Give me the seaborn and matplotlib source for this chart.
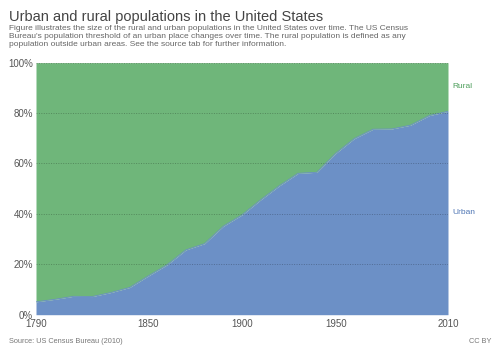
import matplotlib
matplotlib.use("Agg")
import matplotlib.pyplot as plt
import matplotlib.transforms as mtransforms
import seaborn as sns
import pandas as pd

years = [1790, 1800, 1810, 1820, 1830, 1840, 1850, 1860, 1870, 1880, 1890, 1900,
         1910, 1920, 1930, 1940, 1950, 1960, 1970, 1980, 1990, 2000, 2010]
urban_pct = [5.1, 6.1, 7.3, 7.2, 8.8, 10.8, 15.4, 19.8, 25.7, 28.2, 35.1, 39.6,
             45.6, 51.2, 56.1, 56.5, 64.0, 69.9, 73.6, 73.7, 75.2, 79.0, 80.7]
rural_pct = [100 - u for u in urban_pct]
series_names = ["Urban", "Rural"]
x_ticks = [1790, 1850, 1900, 1950, 2010]
y_ticks = [0, 20, 40, 60, 80, 100]

df = pd.DataFrame({"year": years, "Urban": urban_pct, "Rural": rural_pct})

sns.set_theme(style="white")
plt.rcParams["font.family"] = ["Liberation Sans", "DejaVu Sans"]

BLUE = "#6C90C6"
GREEN = "#6FB67A"

fig = plt.figure(figsize=(5.0, 3.53), dpi=100)
ax = fig.add_axes([0.072, 0.1085, 0.824, 0.714])

ax.stackplot(df["year"], df["Urban"], df["Rural"], colors=[BLUE, GREEN],
             linewidth=0, zorder=1)
sns.lineplot(x=df["year"], y=df["Urban"], ax=ax, color=BLUE, linewidth=0.6, zorder=1.5)

ax.set_xlim(1790, 2010)
ax.set_ylim(0, 100)
ax.set_xticks(x_ticks)
ax.set_xticklabels([str(t) for t in x_ticks])
ax.set_yticks(y_ticks)
ax.set_yticklabels([f"{t}%" for t in y_ticks])
ax.set_xlabel("")
ax.set_ylabel("")
for s in ax.spines.values():
    s.set_visible(False)
ax.tick_params(axis="both", length=0, labelsize=7, colors="#555555")
ax.tick_params(axis="x", pad=3.4)
ax.tick_params(axis="y", pad=2)

for t in y_ticks[1:]:
    ax.axhline(t, color="#000000", alpha=0.25, linewidth=0.7, linestyle=(0, (1, 1.5)), zorder=2)

off = mtransforms.offset_copy(ax.transData, fig=fig, x=3, y=0, units="points")
ax.text(2010, 90.5, "Rural", color="#4E9F5C", fontsize=6, va="center", ha="left",
        transform=off, clip_on=False)
ax.text(2010, 40.5, "Urban", color="#4D74B3", fontsize=6, va="center", ha="left",
        transform=off, clip_on=False)

fig.text(0.018, 1 - 21.5 / 353, "Urban and rural populations in the United States",
         fontsize=10.5, color="#444444", ha="left", va="baseline")
fig.text(0.018, 1 - 24.5 / 353,
         "Figure illustrates the size of the rural and urban populations in the United States over time. The US Census\n"
         "Bureau's population threshold of an urban place changes over time. The rural population is defined as any\n"
         "population outside urban areas. See the source tab for further information.",
         fontsize=6.0, color="#666666", ha="left", va="top", linespacing=1.2)
fig.text(0.018, 1 - 343 / 353, "Source: US Census Bureau (2010)", fontsize=5.3,
         color="#777777", ha="left", va="baseline")
fig.text(0.982, 1 - 343 / 353, "CC BY", fontsize=5.3, color="#777777",
         ha="right", va="baseline")

fig.savefig("out.png", dpi=100)
